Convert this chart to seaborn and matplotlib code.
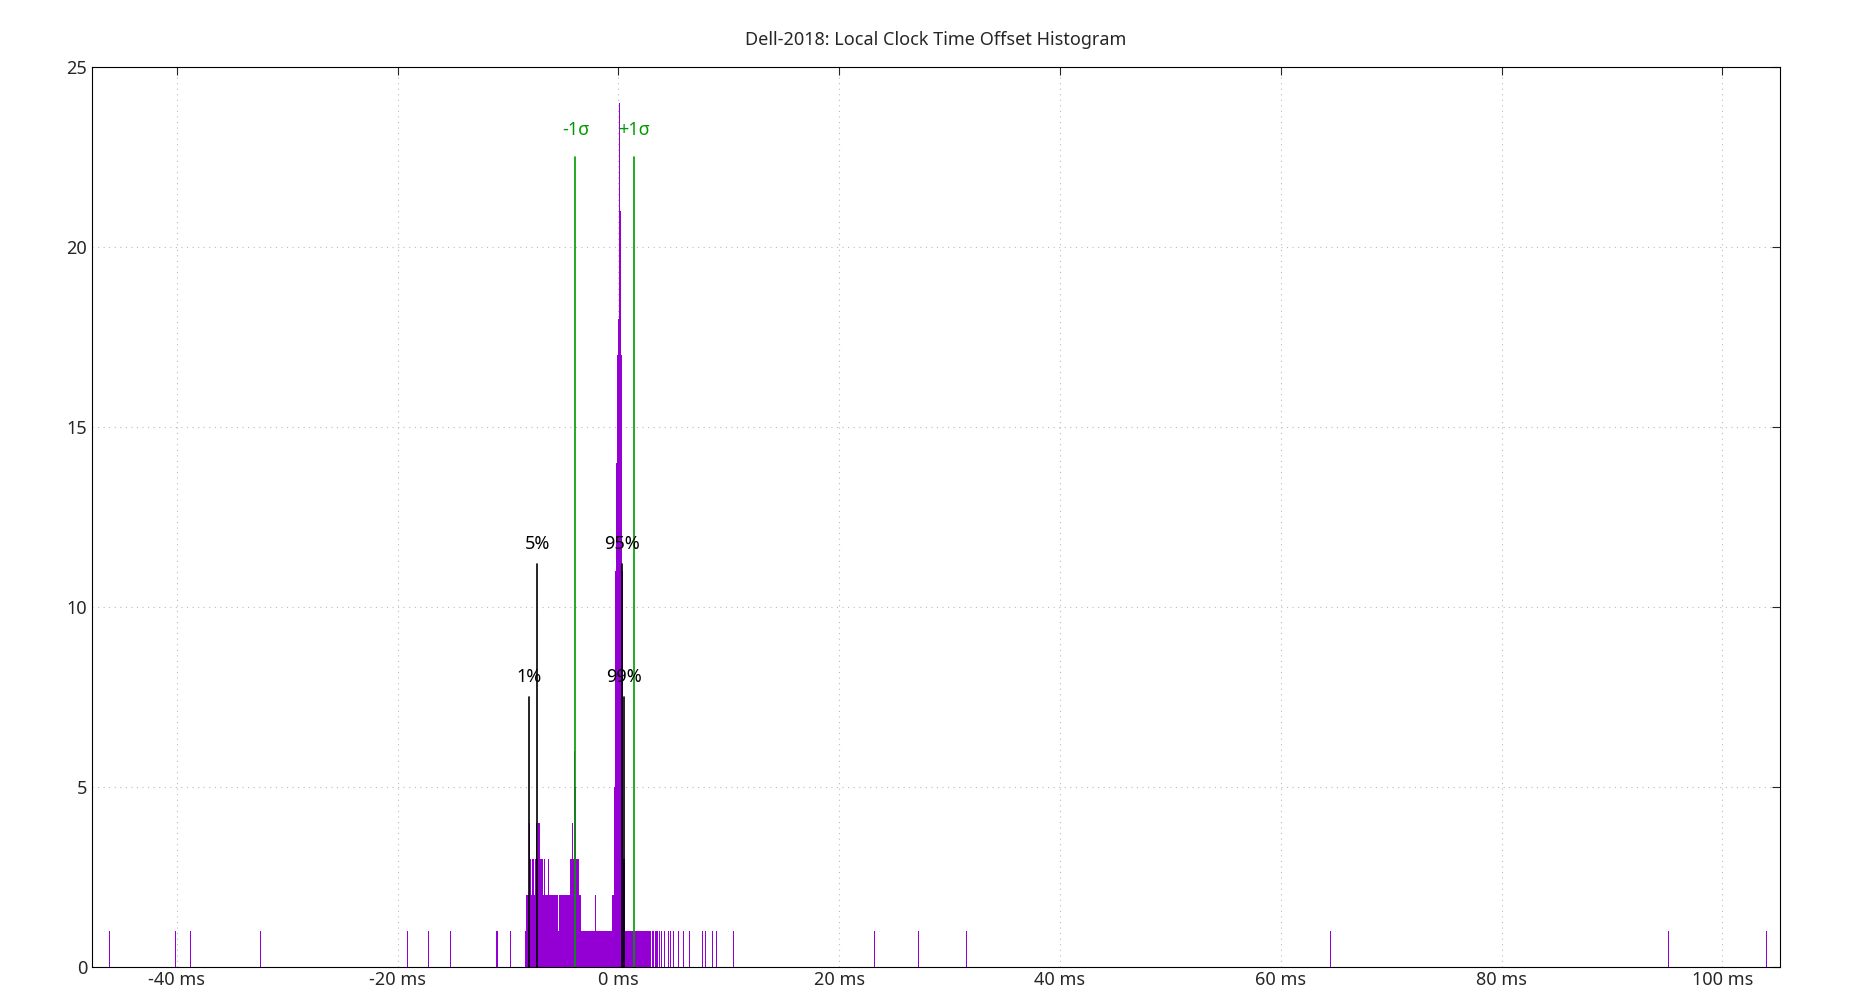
import numpy as np
import pandas as pd
import matplotlib
matplotlib.use("Agg")
import matplotlib.pyplot as plt
import seaborn as sns

# histogram bins (ms) and counts, 0.1 ms bins
main_start = -8.4
main_counts = [1, 2, 2, 4, 3, 2, 3, 3, 2, 3, 4, 3, 4, 3, 3, 3, 2, 3, 2, 2,
               2, 3, 2, 2, 2, 2, 2, 2, 2, 2, 1, 2, 2, 2, 2, 2, 2, 2, 2, 2,
               2, 3, 4, 3, 6, 5, 3, 3, 3, 2, 2, 1, 1, 1, 1,
               1, 1, 1, 1, 1, 1, 1, 1, 2, 1, 1, 1, 1, 1, 1,
               1, 1, 1, 1, 1, 1, 1, 1, 1, 2,
               5, 11, 14, 17, 18, 24, 21, 17, 11, 3,
               1, 1, 1, 1, 1, 1, 1, 1, 1, 1, 1, 1, 1, 1, 1, 1, 1, 1, 1, 1,
               1, 1, 1, 1, 0, 1, 1, 0, 1, 1]
sparse_x = [3.7, 3.9, 4.2, 4.5, 4.7, 5.0, 5.4, 5.9, 6.4, 7.6, 7.9, 8.5, 8.9, 10.4,
            -46.1, -40.1, -38.8, -32.4, -19.1, -17.2, -15.2, -11.0, -9.8,
            23.2, 27.2, 31.5, 64.5, 95.1, 104.0]

# marker lines: (x ms, height, label, colour)
markers = [(-8.1, 7.5, "1%", "black"), (-7.35, 11.2, "5%", "black"),
           (0.3, 11.2, "95%", "black"), (0.5, 7.5, "99%", "black"),
           (-3.9, 22.5, "-1σ", "#009900"), (1.4, 22.5, "+1σ", "#009900")]

xticks = [-40, -20, 0, 20, 40, 60, 80, 100]
yticks = [0, 5, 10, 15, 20, 25]

centers = [round(main_start + 0.1 * i, 2) for i in range(len(main_counts))] + sparse_x
weights = main_counts + [1] * len(sparse_x)
df = pd.DataFrame({"offset": centers, "count": weights})

sns.set_style("white")
plt.rcParams['font.family'] = ['Noto Sans', 'DejaVu Sans']

fig = plt.figure(figsize=(18.5, 10), dpi=100)
ax = fig.add_axes([0.0497, 0.0334, 0.9123, 0.8996])

sns.histplot(data=df, x="offset", weights="count", binwidth=0.1,
             binrange=(-50.05, 109.95), color="#9400d3",
             alpha=1, linewidth=0, ax=ax)

for x, h, lab, col in markers:
    ax.plot([x, x], [0, h], color=col, lw=1.2)
    ax.text(x, h + 0.5 if h > 20 else h + 0.3, lab, color=col, ha="center",
            va="bottom", fontsize=13)

ax.set_xlim(-47.7, 105.2)
ax.set_ylim(0, 25)
ax.set_xticks(xticks)
ax.set_xticklabels([f"{t} ms" for t in xticks])
ax.set_yticks(yticks)
ax.tick_params(labelsize=13, direction="in", length=6, top=True, right=True)
ax.grid(True, color="#bbbbbb", ls=(0, (1, 4)), lw=0.8)
ax.set_axisbelow(True)
ax.set_xlabel("")
ax.set_ylabel("")
for s in ax.spines.values():
    s.set_color("black")
ax.set_title("Dell-2018: Local Clock Time Offset Histogram", fontsize=13, pad=16)

fig.savefig("out.png")
